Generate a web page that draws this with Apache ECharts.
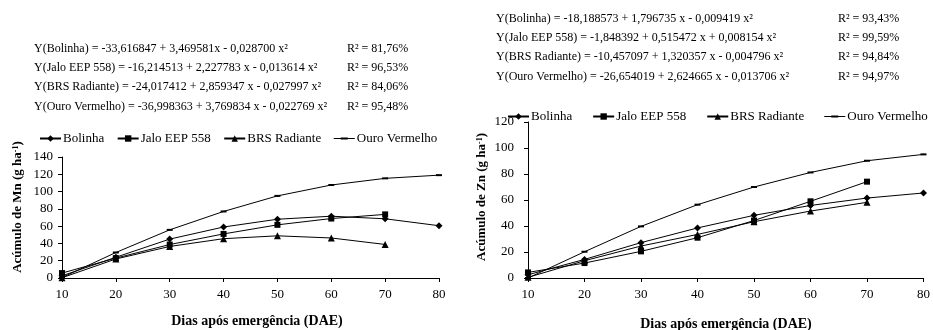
<!DOCTYPE html>
<html>
<head>
<meta charset="utf-8">
<script src="https://cdn.jsdelivr.net/npm/echarts@6/dist/echarts.min.js"></script>
<style>
html,body{margin:0;padding:0;background:#fff;}
#c{width:933px;height:330px;}
</style>
</head>
<body>
<div id="c"></div>
<script>
// ---- data ----
const days = [10, 20, 30, 40, 50, 60, 70, 80];
const seriesNames = ['Bolinha', 'Jalo EEP 558', 'BRS Radiante', 'Ouro Vermelho'];

// Mn accumulation (g ha-1)
const mnBolinha = [2.5, 24, 45, 59, 68, 71.5, 68.5, 60.5];
const mnJalo = [5.7, 23, 38.7, 51, 61.5, 68.8, 73.6];
const mnBRS = [0.3, 22, 36.5, 45.5, 48.8, 46.3, 38.8];
const mnOuro = [0.5, 29.5, 55.7, 77, 95, 107.6, 115.3, 119];

// Zn accumulation (g ha-1)
const znBolinha = [2.5, 14.3, 27.2, 38.5, 48.2, 55.8, 61.5, 65.4];
const znJalo = [4.3, 11.5, 20.5, 31, 44.2, 59, 74.1];
const znBRS = [0.5, 13.3, 24.6, 33.5, 43.3, 51.5, 58.2];
const znOuro = [0, 20.2, 39.7, 56.4, 70, 81.2, 90.2, 95.1];

// axis ticks
const mnTicks = [0, 20, 40, 60, 80, 100, 120, 140];
const znTicks = [0, 20, 40, 60, 80, 100, 120];
const dayTicks = [10, 20, 30, 40, 50, 60, 70, 80];

// regression texts
const mnEq = [
  'Y(Bolinha) = -33,616847 + 3,469581x - 0,028700 x²',
  'Y(Jalo EEP 558) = -16,214513 + 2,227783 x - 0,013614 x²',
  'Y(BRS Radiante) = -24,017412 + 2,859347 x - 0,027997 x²',
  'Y(Ouro Vermelho) = -36,998363 + 3,769834 x - 0,022769 x²'
];
const mnR2 = ['R² = 81,76%', 'R² = 96,53%', 'R² = 84,06%', 'R² = 95,48%'];
const znEq = [
  'Y(Bolinha) = -18,188573 + 1,796735 x - 0,009419 x²',
  'Y(Jalo EEP 558) = -1,848392 + 0,515472 x + 0,008154 x²',
  'Y(BRS Radiante) = -10,457097 + 1,320357 x - 0,004796 x²',
  'Y(Ouro Vermelho) = -26,654019 + 2,624665 x - 0,013706 x²'
];
const znR2 = ['R² = 93,43%', 'R² = 99,59%', 'R² = 94,84%', 'R² = 94,97%'];

// ---- build ----
const FONT = '"Liberation Serif","Times New Roman",serif';
const pair = (vals) => vals.map((v, i) => [days[i], v]);
const symbols = ['diamond', 'rect', 'triangle', 'rect'];
const symSizes = [7, 6, 7, [6, 2]];

function mkSeries(name, vals, idx, k) {
  return {
    type: 'line', name: name, xAxisIndex: idx, yAxisIndex: idx,
    data: pair(vals), symbol: symbols[k], symbolSize: symSizes[k],
    showSymbol: true, animation: false,
    lineStyle: { color: '#000', width: 1 },
    itemStyle: { color: '#000' }
  };
}
const mnSets = [mnBolinha, mnJalo, mnBRS, mnOuro];
const znSets = [znBolinha, znJalo, znBRS, znOuro];
const series = [];
mnSets.forEach((v, k) => series.push(mkSeries(seriesNames[k], v, 0, k)));
znSets.forEach((v, k) => series.push(mkSeries(seriesNames[k], v, 1, k)));

function xAx(gi) {
  return {
    type: 'value', gridIndex: gi, min: dayTicks[0], max: dayTicks[dayTicks.length - 1], interval: 10,
    splitLine: { show: false },
    axisLine: { lineStyle: { color: '#000', width: 1 } },
    axisTick: { show: true, length: 4, lineStyle: { color: '#000' } },
    axisLabel: { color: '#000', fontFamily: FONT, fontSize: 13, margin: 10 }
  };
}
function yAx(gi, ticks, margin) {
  return {
    type: 'value', gridIndex: gi, min: ticks[0], max: ticks[ticks.length - 1], interval: 20,
    splitLine: { show: false },
    axisLine: { show: true, lineStyle: { color: '#000', width: 1 } },
    axisTick: { show: true, length: 4, lineStyle: { color: '#000' } },
    axisLabel: { color: '#000', fontFamily: FONT, fontSize: 13, margin: margin }
  };
}

const ouroIcon = 'path://M0,0L0,0M21,7L21,7M0,3h21v1H0zM7,2.5h7v2H7z';
function mkLegend(left, top, gap) {
  return {
    left: left, top: top, orient: 'horizontal', padding: 0,
    itemWidth: 21, itemHeight: 8, itemGap: gap,
    textStyle: { color: '#000', fontFamily: FONT, fontSize: 13, padding: [0, 0, 0, -3] },
    selectedMode: false,
    data: [
      { name: seriesNames[0] },
      { name: seriesNames[1] },
      { name: seriesNames[2] },
      { name: seriesNames[3], icon: ouroIcon, itemStyle: { borderWidth: 0 } }
    ]
  };
}

const graphic = [];
function addEq(list, r2, x, rx, y0, dy) {
  list.forEach((t, i) => {
    graphic.push({ type: 'text', x: x, y: y0 + i * dy, style: { text: t, font: '12px ' + FONT, fill: '#000', verticalAlign: 'middle', textVerticalAlign: 'middle' } });
    graphic.push({ type: 'text', x: rx, y: y0 + i * dy, style: { text: r2[i], font: '12px ' + FONT, fill: '#000', verticalAlign: 'middle', textVerticalAlign: 'middle' } });
  });
}
addEq(mnEq, mnR2, 34, 347, 48.5, 19.3);
addEq(znEq, znR2, 496, 838, 18.5, 19.3);

function yTitle(x, y, elem) {
  graphic.push({
    type: 'text', x: x, y: y, rotation: Math.PI / 2,
    style: {
      text: '{a|Acúmulo de ' + elem + ' (g ha}{s|-1}{a|)}',
      align: 'center', verticalAlign: 'middle', textAlign: 'center', textVerticalAlign: 'middle',
      rich: {
        a: { fontFamily: FONT, fontSize: 13, fontWeight: 'bold', fill: '#000', color: '#000', verticalAlign: 'bottom' },
        s: { fontFamily: FONT, fontSize: 8, fontWeight: 'bold', fill: '#000', color: '#000', verticalAlign: 'top' }
      }
    }
  });
}
yTitle(18, 207, 'Mn');
yTitle(482, 197, 'Zn');

function xTitle(cx, cy) {
  graphic.push({
    type: 'text', x: cx, y: cy,
    style: { text: 'Dias após emergência (DAE)', font: 'bold 14px ' + FONT, fill: '#000', align: 'center', verticalAlign: 'middle', textAlign: 'center', textVerticalAlign: 'middle' }
  });
}
xTitle(257, 321);
xTitle(726, 324);

const chart = echarts.init(document.getElementById('c'), null, { renderer: 'canvas' });
chart.setOption({
  animation: false,
  backgroundColor: '#fff',
  grid: [
    { left: 62, top: 157, width: 377, height: 121 },
    { left: 528, top: 122, width: 398, height: 156 }
  ],
  xAxis: [xAx(0), xAx(1)],
  yAxis: [yAx(0, mnTicks, 9), yAx(1, znTicks, 14)],
  legend: [mkLegend(39, 132, 12.5), mkLegend(507, 110, 20)],
  series: series,
  graphic: graphic
});
</script>
</body>
</html>
